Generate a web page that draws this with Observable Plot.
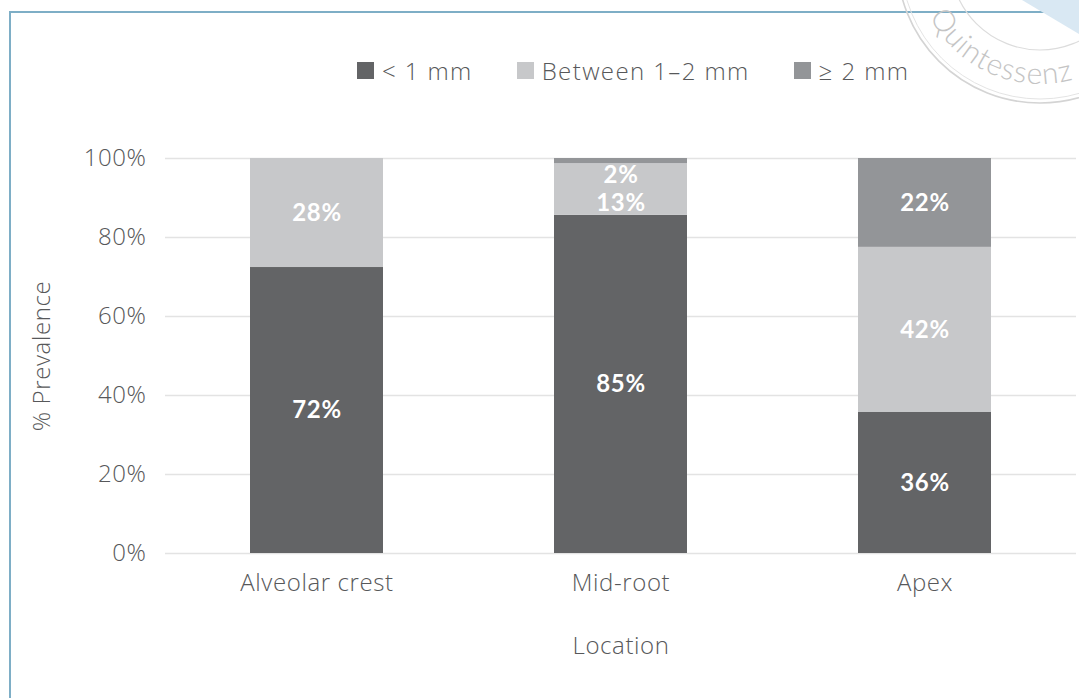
<!DOCTYPE html>
<html>
<head>
<meta charset="utf-8">
<script src="https://cdn.jsdelivr.net/npm/d3@7"></script>
<script src="https://cdn.jsdelivr.net/npm/@observablehq/plot@0.6"></script>
<style>
  html, body { margin: 0; padding: 0; background: #fff; }
  #wrap { position: relative; width: 1079px; height: 698px; overflow: hidden; font-family: "Open Sans", Lato, sans-serif; font-weight: 300; color: #57585a; }
  #frame { position: absolute; left: 9px; top: 11px; width: 1200px; height: 800px; border-left: 2px solid #7eaec6; border-top: 2px solid #7eaec6; }
  #legend { position: absolute; left: 357px; top: 54px; display: flex; align-items: center; font-size: 24px; letter-spacing: 1.4px; gap: 44px; white-space: nowrap; }
  #legend .item { display: flex; align-items: center; gap: 8px; }
  #legend .sw { width: 17px; height: 17px; display: inline-block; }
  #chart { position: absolute; left: 0; top: 0; }
  #stamp { position: absolute; left: 0; top: 0; pointer-events: none; }
</style>
</head>
<body>
<div id="wrap">
  <div id="frame"></div>
  <div id="chart"></div>
  <div id="legend"></div>
  <svg id="stamp" width="1079" height="698"></svg>
</div>
<script>
// ---- data ----
const categories = ["Alveolar crest", "Mid-root", "Apex"];
const seriesNames = ["< 1 mm", "Between 1–2 mm", "≥ 2 mm"];
const seriesColors = ["#636466", "#c7c8ca", "#939598"];
const lessThan1 = [72.4, 85.6, 35.7];
const between1and2 = [27.6, 13.1, 41.8];
const atLeast2 = [0, 1.3, 22.5];
const lessThan1Labels = ["72%", "85%", "36%"];
const between1and2Labels = ["28%", "13%", "42%"];
const atLeast2Labels = ["", "2%", "22%"];
const yTicks = [0, 20, 40, 60, 80, 100];
const crowdedCategory = "Mid-root";

const seriesValues = [lessThan1, between1and2, atLeast2];
const seriesLabels = [lessThan1Labels, between1and2Labels, atLeast2Labels];
const rows = [];
categories.forEach((c, i) => {
  seriesNames.forEach((s, j) => {
    rows.push({category: c, series: s, value: seriesValues[j][i], label: seriesLabels[j][i]});
  });
});
const isCrowded = d => d.category === crowdedCategory && d.series !== seriesNames[0];

const textGrey = "#57585a";
const chart = Plot.plot({
  width: 1079,
  height: 698,
  marginTop: 158,
  marginBottom: 145,
  marginLeft: 165,
  marginRight: 3,
  style: {fontFamily: "'Open Sans', Lato, sans-serif", fontWeight: 300, fontSize: "24px", color: textGrey, background: "transparent", letterSpacing: "0.6px"},
  x: {domain: categories, paddingInner: 0.5625, paddingOuter: 0.2796},
  y: {domain: [0, 100]},
  color: {domain: seriesNames, range: seriesColors},
  marks: [
    Plot.gridY(yTicks, {stroke: "#e3e3e3", strokeOpacity: 1, strokeWidth: 1.5}),
    Plot.barY(rows, Plot.stackY({x: "category", y: "value", fill: "series"})),
    Plot.text(rows, Plot.stackY({x: "category", y: "value", text: d => isCrowded(d) ? "" : d.label, fill: "white", fontFamily: "Lato, sans-serif", fontWeight: "bold", fontSize: 24})),
    Plot.text(rows, Plot.stackY({x: "category", y: "value", text: d => isCrowded(d) ? d.label : "", fill: "white", fontFamily: "Lato, sans-serif", fontWeight: "bold", fontSize: 24, dy: 14})),
    Plot.axisY({ticks: yTicks, tickFormat: d => d + "%", tickSize: 0, tickPadding: 19, fontSize: 24, fill: textGrey,
      label: "% Prevalence", labelAnchor: "center", labelOffset: 133, labelArrow: "none"}),
    Plot.axisX({tickSize: 0, tickPadding: 20, fontSize: 24, fill: textGrey,
      label: "Location", labelAnchor: "center", labelOffset: 100, labelArrow: "none"})
  ]
});
document.getElementById("chart").appendChild(chart);

// ---- legend ----
const legend = document.getElementById("legend");
seriesNames.forEach((s, j) => {
  const item = document.createElement("div");
  item.className = "item";
  const sw = document.createElement("span");
  sw.className = "sw";
  sw.style.background = seriesColors[j];
  const t = document.createElement("span");
  t.textContent = s;
  item.appendChild(sw);
  item.appendChild(t);
  legend.appendChild(item);
});

// ---- watermark stamp ----
const stamp = d3.select("#stamp");
const cx = 1040, cy = -40;
stamp.append("path").attr("d", "M1022,0 L1079,0 L1079,34 Z").attr("fill", "#d9e8f3");
stamp.append("circle").attr("cx", cx).attr("cy", cy).attr("r", 143).attr("fill", "none").attr("stroke", "#d4d4d4").attr("stroke-width", 1.6);
stamp.append("circle").attr("cx", cx).attr("cy", cy).attr("r", 139).attr("fill", "none").attr("stroke", "#e4e4e4").attr("stroke-width", 1);
stamp.append("circle").attr("cx", cx).attr("cy", cy).attr("r", 90).attr("fill", "none").attr("stroke", "#dcdcdc").attr("stroke-width", 1.2);
const r = 124, a0 = 153 * Math.PI / 180, a1 = 30 * Math.PI / 180;
stamp.append("path").attr("id", "stampArc").attr("fill", "none")
  .attr("d", `M${cx + r * Math.cos(a0)},${cy + r * Math.sin(a0)} A${r},${r} 0 0 0 ${cx + r * Math.cos(a1)},${cy + r * Math.sin(a1)}`);
stamp.append("text").attr("font-family", "Lato, sans-serif").attr("font-size", 30).attr("fill", "#c4c4c4").attr("letter-spacing", 1)
  .append("textPath").attr("href", "#stampArc").text("Quintessenz");
</script>
</body>
</html>
